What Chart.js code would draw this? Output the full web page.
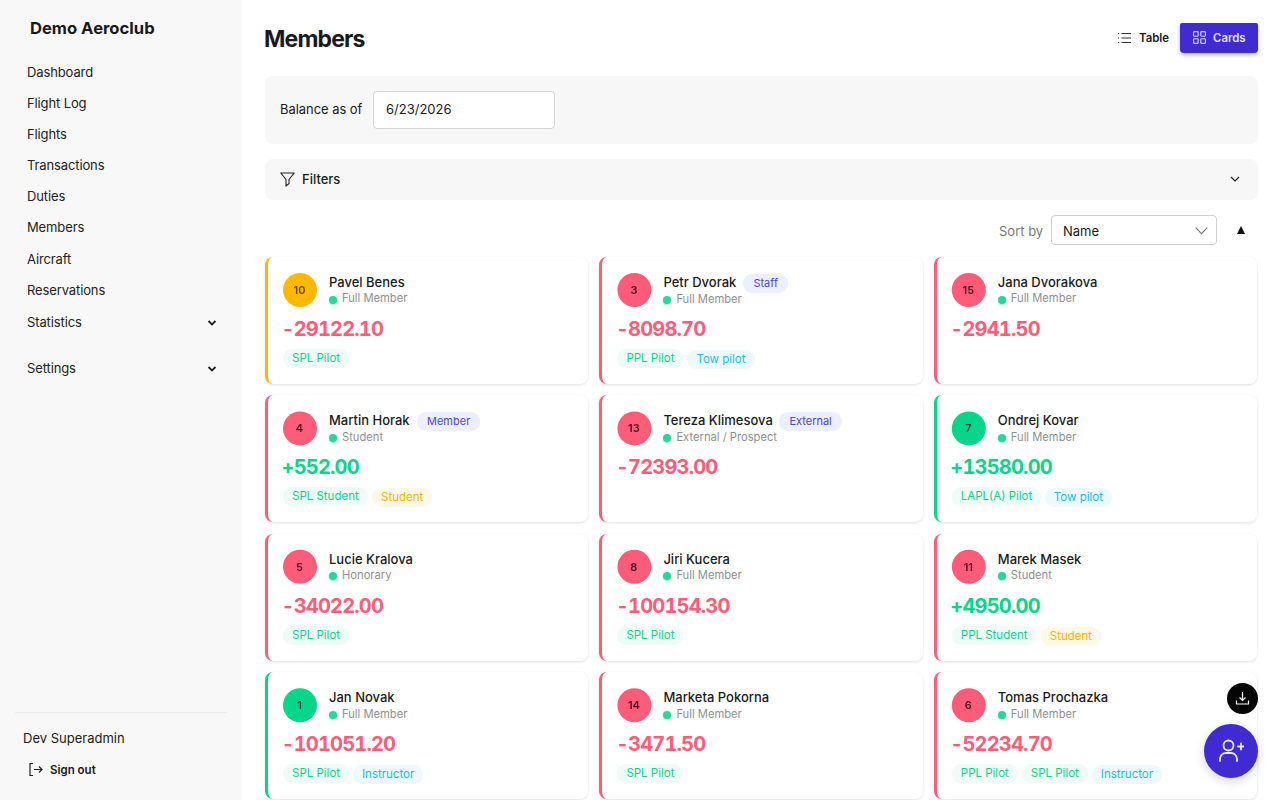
<!DOCTYPE html>
<html>
<head>
<meta charset="utf-8">
<title>Members</title>
<script src="https://cdn.jsdelivr.net/npm/chart.js@4"></script>
<style>
* { box-sizing: border-box; }
html, body { margin: 0; width: 1280px; height: 800px; overflow: hidden; background: #fff; font-family: Inter, sans-serif; color: #1a1a1a; }
.abs { position: absolute; white-space: nowrap; }
#side { position: absolute; left: 0; top: 0; width: 242px; height: 800px; background: #f8f8f8; }
#brand { left: 30px; top: 17px; font-size: 16.6px; font-weight: 700; line-height: 22px; }
.nav { left: 27px; font-size: 13px; letter-spacing: -.12px; line-height: 18px; color: #222; }
.caret { left: 207px; width: 10px; height: 10px; }
#sepa { left: 15px; top: 712px; width: 212px; height: 1px; background: #ececec; }
#user { left: 23px; top: 729px; font-size: 13px; line-height: 18px; }
#signout { left: 50px; top: 762px; font-size: 11.5px; font-weight: 600; line-height: 16px; }
#title { left: 264px; top: 24px; font-size: 23px; font-weight: 700; letter-spacing: -.85px; line-height: 30px; }
#tablebtn { left: 1139px; top: 30px; font-size: 11.4px; font-weight: 600; line-height: 16px; }
#cardsbtn { left: 1180px; top: 23px; width: 78px; height: 30px; background: #3f2bd1; border-radius: 2px 2px 4px 4px; box-shadow: 0 2px 4px rgba(63,43,209,.35); }
#cardslbl { left: 1213px; top: 30px; font-size: 11.4px; font-weight: 600; line-height: 16px; color: #e4e2fb; }
.panel { position: absolute; left: 265px; width: 993px; background: #f7f7f7; border-radius: 8px; }
#dateinp { left: 373px; top: 91px; width: 182px; height: 38px; background: #fff; border: 1px solid #d6d6d6; border-radius: 4px; }
#sortsel { left: 1051px; top: 215px; width: 166px; height: 30px; background: #fff; border: 1px solid #cfcfcf; border-radius: 4px; }
.card { position: absolute; width: 323.2px; height: 127px; background: #fff; border-radius: 8px; border-left: 3.5px solid #ff5c7a; box-shadow: 0 1px 3px rgba(0,0,0,.12); }
.num { position: absolute; left: 14.5px; top: 24px; width: 34px; height: 18px; line-height: 18px; text-align: center; font-size: 11px; font-weight: 600; z-index: 2; }
.name { position: absolute; left: 61px; top: 16px; font-size: 13px; font-weight: 500; line-height: 18px; white-space: nowrap; }
.badge { position: absolute; top: 17px; height: 19px; padding: 0 10px; border-radius: 9px; background: #eceffd; color: #4f43d8; font-size: 11px; line-height: 19px; white-space: nowrap; }
.dot { position: absolute; left: 61px; top: 38.5px; width: 8px; height: 8px; border-radius: 50%; background: #27d79a; box-shadow: 0 1px 2px rgba(39,215,154,.5); }
.kind { position: absolute; left: 74px; top: 34.4px; font-size: 11.2px; line-height: 15px; color: #8f8f8f; white-space: nowrap; }
.bal { position: absolute; left: 13.5px; top: 59px; font-size: 20px; font-weight: 700; font-variant-numeric: tabular-nums; letter-spacing: -.8px; line-height: 26px; white-space: nowrap; }
.chip { position: absolute; top: 92px; height: 19px; padding: 0 9px; border-radius: 9px; font-size: 11.5px; line-height: 19px; white-space: nowrap; }
.chip.green { background: #eefbf6; color: #12d28f; }
.chip.blue { background: #edf9fe; color: #18bdf2; top: 93px; }
.chip.amber { background: #fff8e8; color: #ffb300; top: 93px; }
#avatars { position: absolute; left: 265px; top: 257px; z-index: 1; pointer-events: none; }
#fabdown { left: 1227px; top: 683px; width: 31px; height: 31px; border-radius: 50%; background: #050505; z-index: 3; }
#fabadd { left: 1204px; top: 724px; width: 54px; height: 54px; border-radius: 50%; background: #3f2bd1; box-shadow: 0 3px 10px rgba(0,0,0,.18); z-index: 3; }
svg { display: block; }
</style>
</head>
<body>
<div id="side"></div>
<div class="abs" id="brand">Demo Aeroclub</div>
<div id="navhost"></div>
<div class="abs" id="sepa"></div>
<div class="abs" id="user">Dev Superadmin</div>
<svg class="abs" style="left:28px;top:762px" width="15" height="15" viewBox="0 0 15 15" fill="none" stroke="#222" stroke-width="1.2"><path d="M5 1.5H2v12h3M6 7.5h8M11 4.5l3 3-3 3"/></svg>
<div class="abs" id="signout">Sign out</div>

<div class="abs" id="title">Members</div>
<svg class="abs" style="left:1118px;top:32px" width="13" height="12" viewBox="0 0 13 12" fill="none" stroke="#333" stroke-width="1.1"><path d="M3.5 1.5H13M3.5 6H13M3.5 10.5H13M0 1.5h1.2M0 6h1.2M0 10.5h1.2"/></svg>
<div class="abs" id="tablebtn">Table</div>
<div class="abs" id="cardsbtn"></div>
<svg class="abs" style="left:1193px;top:31px" width="13" height="13" viewBox="0 0 13 13" fill="none" stroke="#d8d5fa" stroke-width="1.1"><rect x=".6" y=".6" width="4.6" height="4.6" rx=".6"/><rect x="7.8" y=".6" width="4.6" height="4.6" rx=".6"/><rect x=".6" y="7.8" width="4.6" height="4.6" rx=".6"/><rect x="7.8" y="7.8" width="4.6" height="4.6" rx=".6"/></svg>
<div class="abs" id="cardslbl">Cards</div>

<div class="panel" style="top:76px;height:68px"></div>
<div class="abs" style="left:280px;top:101px;font-size:12.9px;line-height:18px">Balance as of</div>
<div class="abs" id="dateinp"></div>
<div class="abs" style="left:386px;top:100px;font-size:13px;line-height:18px">6/23/2026</div>

<div class="panel" style="top:159px;height:41px"></div>
<svg class="abs" style="left:280px;top:172px" width="15" height="15" viewBox="0 0 15 15" fill="none" stroke="#222" stroke-width="1.1"><path d="M.8 1h13.4L9 7.5v4L6 14V7.5z" stroke-linejoin="round"/></svg>
<div class="abs" style="left:302px;top:170px;font-size:13px;font-weight:500;line-height:18px">Filters</div>
<svg class="abs" style="left:1230px;top:176px" width="10" height="7" viewBox="0 0 10 7" fill="none" stroke="#222" stroke-width="1.2"><path d="M1 1l4 4 4-4"/></svg>

<div class="abs" style="left:999px;top:222px;font-size:13px;line-height:18px;color:#7a7a7a">Sort by</div>
<div class="abs" id="sortsel"></div>
<div class="abs" style="left:1063px;top:222px;font-size:13px;line-height:18px">Name</div>
<svg class="abs" style="left:1195px;top:227px" width="13" height="8" viewBox="0 0 13 8" fill="none" stroke="#777" stroke-width="1.1"><path d="M.7.7l5.8 6 5.8-6"/></svg>
<svg class="abs" style="left:1237px;top:226px" width="8" height="8" viewBox="0 0 8 8" fill="#111"><path d="M4 0l4 8H0z"/></svg>

<div id="cardhost"></div>
<canvas id="avatars" width="993" height="543"></canvas>

<div class="abs" id="fabdown">
  <svg style="margin:8px" width="15" height="15" viewBox="0 0 15 15" fill="none" stroke="#fff" stroke-width="1.2"><path d="M7.5 1v8M4.5 6.5l3 3 3-3M1.5 9.5v3.5h12V9.5"/></svg>
</div>
<div class="abs" id="fabadd">
  <svg style="margin:14px 0 0 14px" width="26" height="26" viewBox="0 0 26 26" fill="none" stroke="#e9e7fc" stroke-width="1.8" stroke-linecap="round"><circle cx="10.5" cy="7.5" r="5"/><path d="M2 23v-2c0-3.5 3-6 6-6h5c3 0 6 2.5 6 6v2M20 8.5h6M23 5.5v6"/></svg>
</div>

<script>
const navLabels = ['Dashboard', 'Flight Log', 'Flights', 'Transactions', 'Duties', 'Members', 'Aircraft', 'Reservations', 'Statistics', 'Settings'];
const memberIds = [10, 3, 15, 4, 13, 7, 5, 8, 11, 1, 14, 6];
const memberNames = ['Pavel Benes', 'Petr Dvorak', 'Jana Dvorakova', 'Martin Horak', 'Tereza Klimesova', 'Ondrej Kovar', 'Lucie Kralova', 'Jiri Kucera', 'Marek Masek', 'Jan Novak', 'Marketa Pokorna', 'Tomas Prochazka'];
const memberKinds = ['Full Member', 'Full Member', 'Full Member', 'Student', 'External / Prospect', 'Full Member', 'Honorary', 'Full Member', 'Student', 'Full Member', 'Full Member', 'Full Member'];
const memberRoles = ['', 'Staff', '', 'Member', 'External', '', '', '', '', '', '', ''];
const balances = [-29122.10, -8098.70, -2941.50, 552.00, -72393.00, 13580.00, -34022.00, -100154.30, 4950.00, -101051.20, -3471.50, -52234.70];
const memberQuals = [['SPL Pilot'], ['PPL Pilot', 'Tow pilot'], [], ['SPL Student', 'Student'], [], ['LAPL(A) Pilot', 'Tow pilot'], ['SPL Pilot'], ['SPL Pilot'], ['PPL Student', 'Student'], ['SPL Pilot', 'Instructor'], ['SPL Pilot'], ['PPL Pilot', 'SPL Pilot', 'Instructor']];
const memberStates = ['warn', 'bad', 'bad', 'bad', 'bad', 'good', 'bad', 'bad', 'bad', 'good', 'bad', 'bad'];

const stateColors = { warn: '#ffb800', bad: '#ff5c7a', good: '#06d68a' };
const numColors = { warn: '#6b4a00', bad: '#4a0c1c', good: '#05472f' };

// sidebar
const navTops = [63, 94, 125, 156, 187, 218, 250, 281, 313, 359];
document.getElementById('navhost').innerHTML = navLabels.map((label, i) => {
    let html = `<div class="abs nav" style="top:${navTops[i]}px">${label}</div>`;
    if (label === 'Statistics' || label === 'Settings') {
        html += `<svg class="abs caret" style="top:${navTops[i] + 5}px" viewBox="0 0 10 10" fill="none" stroke="#222" stroke-width="1.8"><path d="M1.5 3l3.5 3.5L8.5 3"/></svg>`;
    }
    return html;
}).join('');

// cards
const colPitch = 334.4;
const rowPitch = 138.4;
const host = document.getElementById('cardhost');
memberNames.forEach((name, i) => {
    const col = i % 3;
    const row = Math.floor(i / 3);
    const card = document.createElement('div');
    card.className = 'card';
    card.style.left = (265 + col * colPitch) + 'px';
    card.style.top = (257 + row * rowPitch) + 'px';
    card.style.borderLeftColor = stateColors[memberStates[i]];
    const amount = (balances[i] > 0 ? '+' : '') + balances[i].toFixed(2);
    card.innerHTML = `
        <div class="num" style="color:${numColors[memberStates[i]]}">${memberIds[i]}</div>
        <div class="name">${name}</div>
        <div class="dot"></div>
        <div class="kind">${memberKinds[i]}</div>
        <div class="bal" style="color:${balances[i] > 0 ? '#06d68a' : '#ff5c7a'}">${amount}</div>`;
    host.appendChild(card);

    const nameEl = card.querySelector('.name');
    if (memberRoles[i]) {
        const badge = document.createElement('div');
        badge.className = 'badge';
        badge.textContent = memberRoles[i];
        badge.style.left = (61 + nameEl.offsetWidth + 7) + 'px';
        card.appendChild(badge);
        card.querySelector('.kind').style.top = '35px';
        card.querySelector('.dot').style.top = '39px';
    }
    let x = 15;
    memberQuals[i].forEach(q => {
        const chip = document.createElement('div');
        const tone = q === 'Student' ? 'amber' : (q === 'Tow pilot' || q === 'Instructor') ? 'blue' : 'green';
        chip.className = 'chip ' + tone;
        chip.textContent = q;
        chip.style.left = x + 'px';
        card.appendChild(chip);
        x += chip.offsetWidth + 4;
    });
});

// member number discs, one point per member on a col/row grid
const canvasW = 993;
const canvasH = 543;
const firstX = 35;
const firstY = 33;
new Chart(document.getElementById('avatars').getContext('2d'), {
    type: 'scatter',
    data: {
        datasets: [{
            label: 'Members',
            data: memberIds.map((id, i) => ({ x: i % 3, y: Math.floor(i / 3) })),
            backgroundColor: memberStates.map(s => stateColors[s]),
            borderWidth: 0,
            pointRadius: 17,
            pointHoverRadius: 17
        }]
    },
    options: {
        responsive: false,
        animation: false,
        layout: { padding: 0, autoPadding: false },
        plugins: { legend: { display: false }, tooltip: { enabled: false } },
        scales: {
            x: { type: 'linear', display: false, min: -firstX / colPitch, max: (canvasW - firstX) / colPitch },
            y: { type: 'linear', display: false, reverse: true, min: -firstY / rowPitch, max: (canvasH - firstY) / rowPitch }
        }
    }
});
</script>
</body>
</html>
